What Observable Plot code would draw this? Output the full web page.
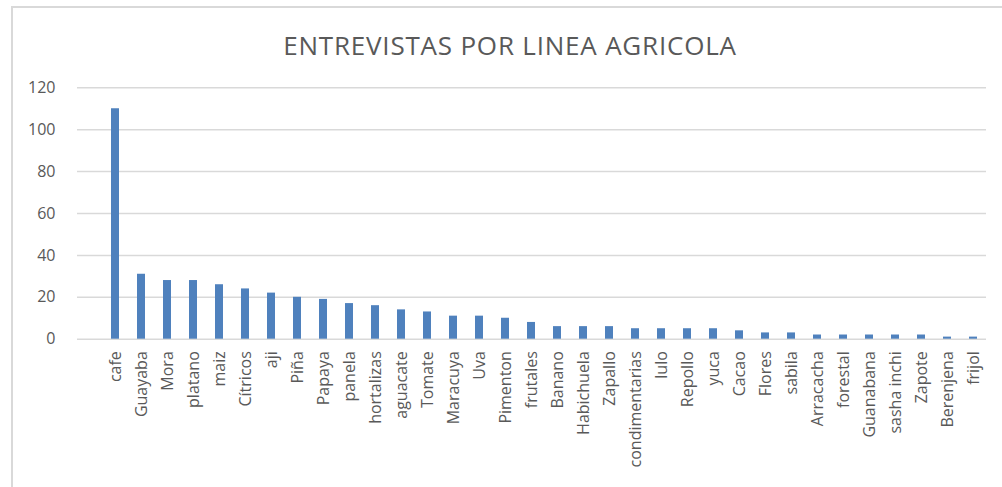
<!DOCTYPE html>
<html>
<head>
<meta charset="utf-8">
<script src="https://cdn.jsdelivr.net/npm/d3@7"></script>
<script src="https://cdn.jsdelivr.net/npm/@observablehq/plot@0.6"></script>
<style>
  html, body { margin: 0; padding: 0; background: #fff; width: 1002px; height: 487px; overflow: hidden; }
  #frame { position: absolute; left: 11px; top: 6px; width: 1100px; height: 600px; border: 2px solid #d9d9d9; box-sizing: border-box; }
  #title { position: absolute; left: 0; top: 32px; width: 1020px; text-align: center; font-family: "Open Sans", sans-serif; font-size: 26px; line-height: 26px; color: #595959; letter-spacing: 0.8px; }
  #chart { position: absolute; left: 0; top: 0; }
</style>
</head>
<body>
<div id="frame"></div>
<div id="title">ENTREVISTAS POR LINEA AGRICOLA</div>
<div id="chart"></div>
<script>
const categories = ["cafe", "Guayaba", "Mora", "platano", "maiz", "Cítricos", "aji", "Piña", "Papaya", "panela",
  "hortalizas", "aguacate", "Tomate", "Maracuya", "Uva", "Pimenton", "frutales", "Banano", "Habichuela", "Zapallo",
  "condimentarias", "lulo", "Repollo", "yuca", "Cacao", "Flores", "sabila", "Arracacha", "forestal", "Guanabana",
  "sasha inchi", "Zapote", "Berenjena", "frijol"];
const values = [110, 31, 28, 28, 26, 24, 22, 20, 19, 17,
  16, 14, 13, 11, 11, 10, 8, 6, 6, 6,
  5, 5, 5, 5, 4, 3, 3, 2, 2, 2,
  2, 2, 1, 1];
const yTicks = [0, 20, 40, 60, 80, 100, 120];

const data = categories.map((c, i) => ({category: c, value: values[i]}));

const chart = Plot.plot({
  width: 1002,
  height: 487,
  marginLeft: 77,
  marginRight: 16,
  marginTop: 87.3,
  marginBottom: 148.3,
  x: {domain: categories, range: [102, 986], paddingInner: 0.69, paddingOuter: 0.345, align: 0.5},
  y: {domain: [0, 120]},
  style: {fontFamily: "'Open Sans', sans-serif", fontSize: "16px", color: "#595959", background: "transparent", overflow: "visible"},
  marks: [
    Plot.gridY(yTicks, {stroke: "#d9d9d9", strokeOpacity: 1, strokeWidth: 1.5}),
    Plot.barY(data, {x: "category", y: "value", fill: "#4f81bd"}),
    Plot.axisY({ticks: yTicks, tickSize: 0, tickPadding: 22, label: null, fill: "#595959"}),
    Plot.axisX({tickRotate: -90, tickSize: 0, tickPadding: 12, label: null, fill: "#595959"})
  ]
});
document.getElementById("chart").appendChild(chart);
</script>
</body>
</html>
